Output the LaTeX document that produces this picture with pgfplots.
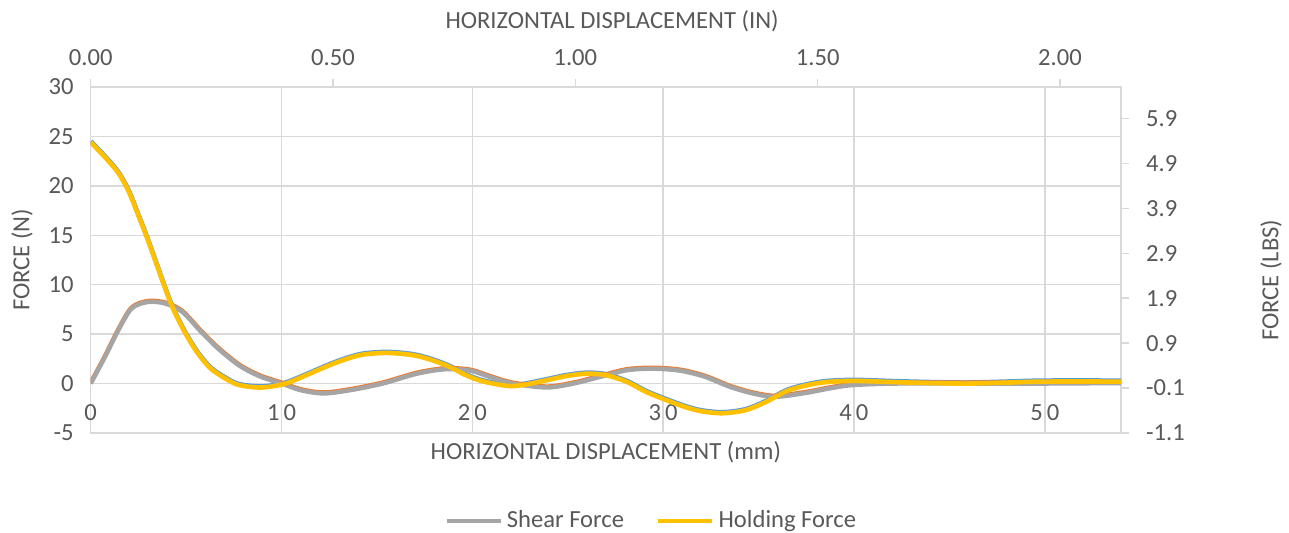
\documentclass[border=0pt]{standalone}
\usepackage{pgfplots}
\pgfplotsset{compat=1.18}
\usepackage{pgfplotstable}
\usepackage{fontspec}
\setmainfont{Carlito}
\definecolor{txt}{HTML}{595959}
\definecolor{grd}{HTML}{D9D9D9}
\definecolor{shear}{HTML}{A5A5A5}
\definecolor{hold}{HTML}{FFC000}
\definecolor{eorange}{HTML}{ED7D31}
\definecolor{eblue}{HTML}{5B9BD5}

\pgfplotstableread{
x y
0 24.4
0.7 23.0
1.45 21.3
2.0 19.4
2.5 17.0
3.0 14.5
3.5 11.8
4.2 8.1
4.9 5.3
5.6 3.1
6.3 1.5
7.2 0.35
7.8 -0.16
8.9 -0.4
10.1 -0.06
11.3 0.85
12.7 2.0
14.1 2.87
15.5 3.1
16.9 2.87
17.9 2.36
18.8 1.7
19.6 0.9
20.5 0.25
21.8 -0.23
22.6 -0.16
23.9 0.34
24.9 0.75
26.0 1.0
27.0 0.85
28.1 0.17
29.1 -0.84
30.2 -1.7
31.2 -2.4
32.0 -2.8
33.1 -3.0
34.3 -2.7
35.4 -1.85
36.6 -0.66
38.2 0.07
39.9 0.27
42.2 0.14
44 0.05
46 0.0
48 0.1
50 0.2
54 0.2
}\holdtab

\pgfplotstableread{
x y
0 0
0.75 2.7
1.45 5.4
2.15 7.6
3.0 8.25
3.9 8.1
4.8 7.25
5.8 5.2
6.7 3.5
7.8 1.8
8.9 0.7
10.1 -0.06
11.0 -0.67
12.2 -1.0
13.6 -0.67
15.3 0
17.1 1.0
18.6 1.45
19.9 1.3
20.9 0.68
22.1 0
23.9 -0.4
25.3 0
26.7 0.68
28.1 1.35
29.5 1.5
30.9 1.3
32.2 0.68
33.5 -0.33
34.7 -1.0
35.9 -1.34
37.5 -0.94
38.7 -0.5
39.9 -0.16
42.2 0
46 0
50 0
54 0.05
}\sheartab

\begin{document}
\begin{tikzpicture}[x=1pt,y=1pt]
\useasboundingbox (0,0) rectangle (644.5,266.5);
\pgfplotsset{
  common/.style={
    scale only axis, width=515.2pt, height=173pt,
    at={(45.35pt,50pt)}, anchor=south west,
    /pgf/number format/assume math mode=true,
    tick label style={font=\fontsize{12.3}{14}\selectfont, text=txt},
    label style={font=\fontsize{12.3}{14}\selectfont, text=txt},
    axis line style={grd, line width=0.75pt, -},
  }
}
% top axis (inches)
\begin{axis}[common,
  xmin=0, xmax=2.126, ymin=0, ymax=1,
  axis x line*=top, axis y line=none,
  xtick={0,0.5,1,1.5,2},
  xticklabel style={/pgf/number format/fixed, /pgf/number format/fixed zerofill, /pgf/number format/precision=2, anchor=center, yshift=10.5pt},
  tick align=outside, major tick length=4pt,
  xtick style={grd, line width=0.75pt},
  xlabel={HORIZONTAL DISPLACEMENT (IN)},
  xlabel style={at={(axis description cs:0.506,1.1908)}, anchor=center},
]
\end{axis}
% right axis (lbs)
\begin{axis}[common,
  xmin=0, xmax=1, ymin=-1.1, ymax=6.6,
  axis y line*=right, axis x line=none,
  ytick={-1.1,-0.1,0.9,1.9,2.9,3.9,4.9,5.9},
  yticklabel style={/pgf/number format/fixed, /pgf/number format/fixed zerofill, /pgf/number format/precision=1, anchor=west},
  yticklabel shift=5pt,
  tick align=outside, major tick length=4pt,
  ytick style={grd, line width=0.75pt},
  ylabel={FORCE (LBS)},
  ylabel style={at={(axis description cs:1.1456,0.442)}, anchor=center},
]
\end{axis}
% main axis
\begin{axis}[common,
  xmin=0, xmax=54, ymin=-5, ymax=30,
  xtick={0,10,20,30,40,50},
  xticklabels={0,1\hspace{2pt}0,2\hspace{2pt}0,3\hspace{2pt}0,4\hspace{2pt}0,5\hspace{2pt}0},
  xticklabel style={anchor=center, yshift=10pt},
  ytick={-5,0,5,10,15,20,25,30},
  yticklabel style={xshift=-5pt},
  grid=major, major grid style={grd, line width=0.75pt},
  tick style={draw=none},
  xlabel={HORIZONTAL DISPLACEMENT (mm)},
  xlabel style={at={(axis description cs:0.5,-0.055)}, anchor=center},
  ylabel={FORCE (N)},
  ylabel style={at={(axis description cs:-0.0667,0.5)}, anchor=center},
  legend style={at={(axis description cs:0.545,-0.254)}, anchor=center, draw=none,
    legend columns=2, font=\fontsize{12.3}{14}\selectfont, text=txt,
    /tikz/every even column/.append style={column sep=14pt}},
  legend image code/.code={\draw[#1] (0pt,0pt) -- (27pt,0pt);},
]
\addplot[eblue, line width=2.3pt, smooth, yshift=0.5pt, forget plot] table {\holdtab};
\addplot[eorange, line width=2.2pt, smooth, yshift=0.5pt, forget plot] table {\sheartab};
\addplot[shear, line width=2.2pt, smooth] table {\sheartab};
\addplot[hold, line width=2.3pt, smooth] table {\holdtab};
\legend{Shear Force, Holding Force}
\end{axis}
\end{tikzpicture}
\end{document}
